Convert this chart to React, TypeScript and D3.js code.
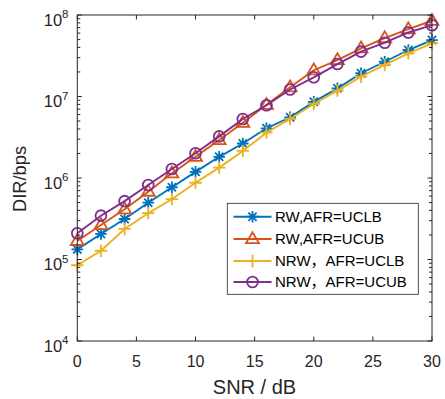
import React from "react";
import * as d3 from "d3";

const snr = [0, 2, 4, 6, 8, 10, 12, 14, 16, 18, 20, 22, 24, 26, 28, 30];
const rwUclb = [1.33e5, 2.06e5, 3.14e5, 4.98e5, 7.7e5, 1.19e6, 1.82e6, 2.65e6, 4.07e6, 5.56e6, 8.6e6, 1.26e7, 1.93e7, 2.67e7, 3.72e7, 4.93e7];
const rwUcub = [1.69e5, 2.65e5, 4.13e5, 6.8e5, 1.14e6, 1.82e6, 2.92e6, 4.75e6, 7.9e6, 1.3e7, 2.1e7, 2.8e7, 3.9e7, 5.2e7, 6.7e7, 8.5e7];
const nrwUclb = [8.5e4, 1.28e5, 2.37e5, 3.7e5, 5.5e5, 8.75e5, 1.34e6, 2.15e6, 3.6e6, 5.3e6, 8.1e6, 1.18e7, 1.75e7, 2.44e7, 3.39e7, 4.5e7];
const nrwUcub = [2.1e5, 3.45e5, 5.2e5, 8.2e5, 1.29e6, 2.01e6, 3.24e6, 5.3e6, 7.8e6, 1.22e7, 1.72e7, 2.5e7, 3.55e7, 4.57e7, 6.1e7, 7.5e7];

const seriesNames = ["RW,AFR=UCLB", "RW,AFR=UCUB", "NRW\uFF0CAFR=UCLB", "NRW\uFF0CAFR=UCUB"];
const seriesColors = ["#0072BD", "#D95319", "#EDB120", "#7E2F8E"];
const seriesMarkers = ["star", "triangle", "plus", "circle"];
const seriesValues = [rwUclb, rwUcub, nrwUclb, nrwUcub];

const xTicks = [0, 5, 10, 15, 20, 25, 30];
const yExps = [4, 5, 6, 7, 8];

const L = 77.3, R = 432, T = 15, B = 341;
const FONT = "'Liberation Sans', Arial, sans-serif";

function Marker({ type, x, y, color }: { type: string; x: number; y: number; color: string }) {
  const sw = 1.8;
  if (type === "circle") return <circle cx={x} cy={y} r={5.4} fill="none" stroke={color} strokeWidth={sw} />;
  if (type === "triangle") {
    const s = 6.8;
    const pts = [[x, y - s], [x + s * 0.95, y + s * 0.6], [x - s * 0.95, y + s * 0.6]].map(p => p.join(",")).join(" ");
    return <polygon points={pts} fill="none" stroke={color} strokeWidth={sw} />;
  }
  if (type === "plus") {
    const s = 6.2;
    return <path d={`M${x - s},${y}H${x + s}M${x},${y - s}V${y + s}`} stroke={color} strokeWidth={sw} />;
  }
  const s = 5.8, d = s * 0.707;
  return <path d={`M${x - s},${y}H${x + s}M${x},${y - s}V${y + s}M${x - d},${y - d}L${x + d},${y + d}M${x - d},${y + d}L${x + d},${y - d}`} stroke={color} strokeWidth={sw} />;
}

function LegendText({ name, x, y }: { name: string; x: number; y: number }) {
  const parts = name.split("\uFF0C");
  if (parts.length === 1) return <text x={x} y={y} fontSize={15} fill="#000">{name}</text>;
  return (
    <text x={x} y={y} fontSize={15} fill="#000">
      {parts[0]}
      <tspan fontFamily="'Noto Sans CJK SC'">{"\uFF0C"}</tspan>
      {parts[1]}
    </text>
  );
}

export default function App() {
  const x = d3.scaleLinear().domain([0, 30]).range([L, R]);
  const y = d3.scaleLog().domain([1e4, 1e8]).range([B, T]);
  const line = d3.line<[number, number]>().x(d => x(d[0])).y(d => y(d[1]));

  const minor: number[] = [];
  for (let e = 4; e < 8; e++) for (let m = 2; m <= 9; m++) minor.push(m * Math.pow(10, e));

  const axisColor = "#262626";
  const legRows = [216.7, 239, 261, 282];

  return (
    <svg width={445} height={399} style={{ position: "absolute", left: 0, top: 0, background: "#fff" }} fontFamily={FONT}>
      <rect x={0} y={0} width={445} height={399} fill="#fff" />
      {seriesValues.map((vals, i) => (
        <g key={i}>
          <path d={line(snr.map((s, j) => [s, vals[j]] as [number, number])) || ""} fill="none" stroke={seriesColors[i]} strokeWidth={1.9} />
          {snr.map((s, j) => (
            <Marker key={j} type={seriesMarkers[i]} x={x(s)} y={y(vals[j])} color={seriesColors[i]} />
          ))}
        </g>
      ))}
      <rect x={L} y={T} width={R - L} height={B - T} fill="none" stroke={axisColor} strokeWidth={1} />
      {xTicks.map(t => (
        <g key={t}>
          <line x1={x(t)} x2={x(t)} y1={B} y2={B - 4.5} stroke={axisColor} />
          <line x1={x(t)} x2={x(t)} y1={T} y2={T + 4.5} stroke={axisColor} />
          <text x={x(t)} y={366.5} textAnchor="middle" fontSize={16} fill={axisColor}>{t}</text>
        </g>
      ))}
      {yExps.map(e => (
        <g key={e}>
          <line x1={L} x2={L + 4.5} y1={y(Math.pow(10, e))} y2={y(Math.pow(10, e))} stroke={axisColor} />
          <line x1={R} x2={R - 4.5} y1={y(Math.pow(10, e))} y2={y(Math.pow(10, e))} stroke={axisColor} />
          <text x={68.5} y={y(Math.pow(10, e)) + 10.8} textAnchor="end" fontSize={16.5} fill={axisColor}>
            10<tspan dy={-7.5} fontSize={11.5}>{e}</tspan>
          </text>
        </g>
      ))}
      {minor.map((m, i) => (
        <g key={i}>
          <line x1={L} x2={L + 3} y1={y(m)} y2={y(m)} stroke={axisColor} />
          <line x1={R} x2={R - 3} y1={y(m)} y2={y(m)} stroke={axisColor} />
        </g>
      ))}
      <text x={254.5} y={394} textAnchor="middle" fontSize={20} fill={axisColor}>SNR / dB</text>
      <text transform={`translate(26,179) rotate(-90)`} textAnchor="middle" fontSize={18.3} fill={axisColor}>DIR/bps</text>
      <rect x={227.3} y={203.3} width={191} height={91} fill="#fff" stroke={axisColor} strokeWidth={0.8} />
      {seriesNames.map((n, i) => (
        <g key={i}>
          <line x1={233.5} x2={271.5} y1={legRows[i]} y2={legRows[i]} stroke={seriesColors[i]} strokeWidth={1.9} />
          <Marker type={seriesMarkers[i]} x={252.5} y={legRows[i]} color={seriesColors[i]} />
          <LegendText name={n} x={275} y={legRows[i] + 5.3} />
        </g>
      ))}
    </svg>
  );
}
